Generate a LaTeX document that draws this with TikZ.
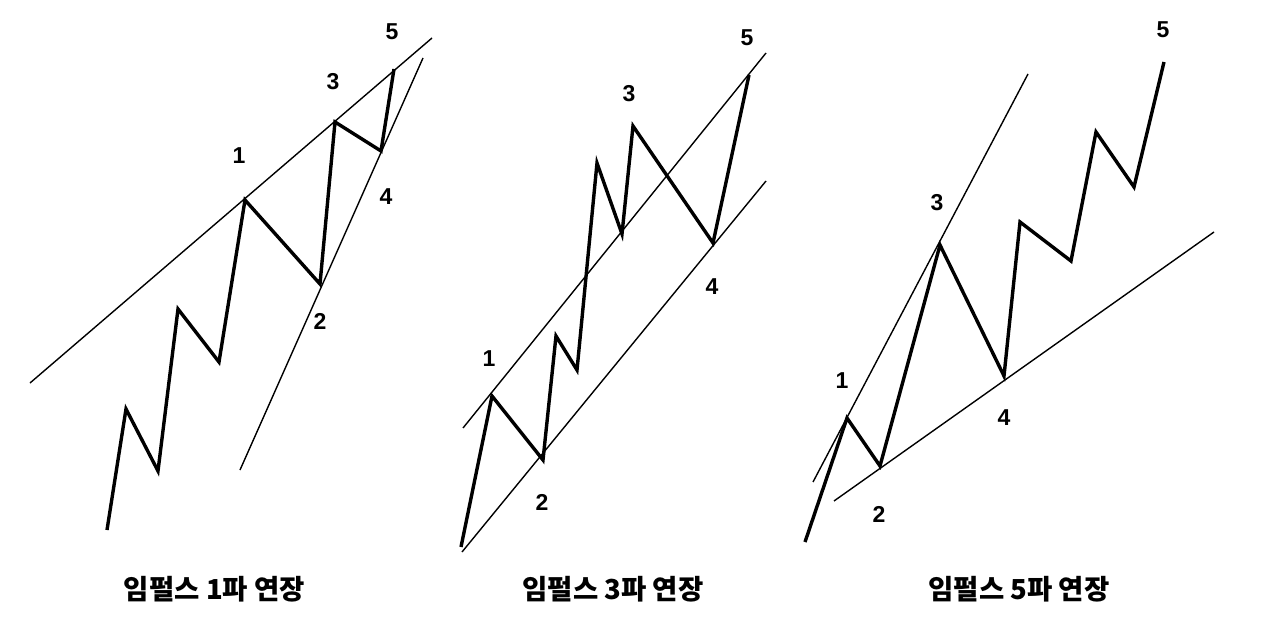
\documentclass[tikz,border=0pt]{standalone}
\usepackage{fontspec}
\setmainfont{Liberation Sans}
\newfontfamily\kr{Noto Sans CJK KR}
\begin{document}
\begin{tikzpicture}[x=1pt,y=-1pt,
  wave/.style={line width=3.4pt,line join=miter,line cap=butt},
  trend/.style={line width=1.4pt},
  num/.style={font=\fontsize{23}{23}\selectfont\bfseries,inner sep=0pt},
  caption/.style={font=\kr\bfseries\fontsize{27.5}{27.5}\selectfont,inner sep=0pt}]
\useasboundingbox (0,0) rectangle (1280,626);
\fill[white] (0,0) rectangle (1280,626);

% ---------- Panel 1 ----------
\coordinate (a0) at (107,530);
\coordinate (a1) at (126,409);
\coordinate (a2) at (158,471);
\coordinate (a3) at (178,309);
\coordinate (a4) at (219,362);
\coordinate (a5) at (245,200);
\coordinate (a6) at (320,284);
\coordinate (a7) at (335,122);
\coordinate (a8) at (381,151);
\coordinate (a9) at (394,69);
\coordinate (au1) at (30,383);
\coordinate (au2) at (432,38);
\coordinate (al1) at (240,470);
\coordinate (al2) at (423,58);
\draw[trend] (au1) -- (au2);
\draw[trend] (al1) -- (al2);
\draw[wave] (a0) -- (a1) -- (a2) -- (a3) -- (a4) -- (a5) -- (a6) -- (a7) -- (a8) -- (a9);
\node[num] (n11) at (239,156) {1};
\node[num] (n12) at (320,321) {2};
\node[num] (n13) at (333,82) {3};
\node[num] (n14) at (386,197) {4};
\node[num] (n15) at (392,32) {5};
\node[caption] (c1) at (214.5,589) {임펄스 1파 연장};

% ---------- Panel 2 ----------
\coordinate (b0) at (461,547);
\coordinate (b1) at (492,396);
\coordinate (b2) at (543,460);
\coordinate (b3) at (556,336);
\coordinate (b4) at (577,370);
\coordinate (b5) at (597,163);
\coordinate (b6) at (622,234);
\coordinate (b7) at (633,126);
\coordinate (b8) at (713,243);
\coordinate (b9) at (749,75);
\coordinate (bu1) at (463,428);
\coordinate (bu2) at (766,53);
\coordinate (bl1) at (462,552);
\coordinate (bl2) at (766,181);
\draw[trend] (bu1) -- (bu2);
\draw[trend] (bl1) -- (bl2);
\draw[wave] (b0) -- (b1) -- (b2) -- (b3) -- (b4) -- (b5) -- (b6) -- (b7) -- (b8) -- (b9);
\node[num] (n21) at (489,359) {1};
\node[num] (n22) at (542,502) {2};
\node[num] (n23) at (629,94) {3};
\node[num] (n24) at (712,287) {4};
\node[num] (n25) at (747,38) {5};
\node[caption] (c2) at (613,589) {임펄스 3파 연장};

% ---------- Panel 3 ----------
\coordinate (d0) at (805,542);
\coordinate (d1) at (847,418);
\coordinate (d2) at (880,466);
\coordinate (d3) at (940,245);
\coordinate (d4) at (1004,376);
\coordinate (d5) at (1020,222);
\coordinate (d6) at (1071,261);
\coordinate (d7) at (1096,132);
\coordinate (d8) at (1134,187);
\coordinate (d9) at (1164,62);
\coordinate (du1) at (813,482);
\coordinate (du2) at (1028,74);
\coordinate (dl1) at (834,501);
\coordinate (dl2) at (1214,232);
\draw[trend] (du1) -- (du2);
\draw[trend] (dl1) -- (dl2);
\draw[wave] (d0) -- (d1) -- (d2) -- (d3) -- (d4) -- (d5) -- (d6) -- (d7) -- (d8) -- (d9);
\node[num] (n31) at (842,381) {1};
\node[num] (n32) at (879,514) {2};
\node[num] (n33) at (937,203) {3};
\node[num] (n34) at (1004,418) {4};
\node[num] (n35) at (1163,30) {5};
\node[caption] (c3) at (1019,589) {임펄스 5파 연장};
\end{tikzpicture}
\end{document}
